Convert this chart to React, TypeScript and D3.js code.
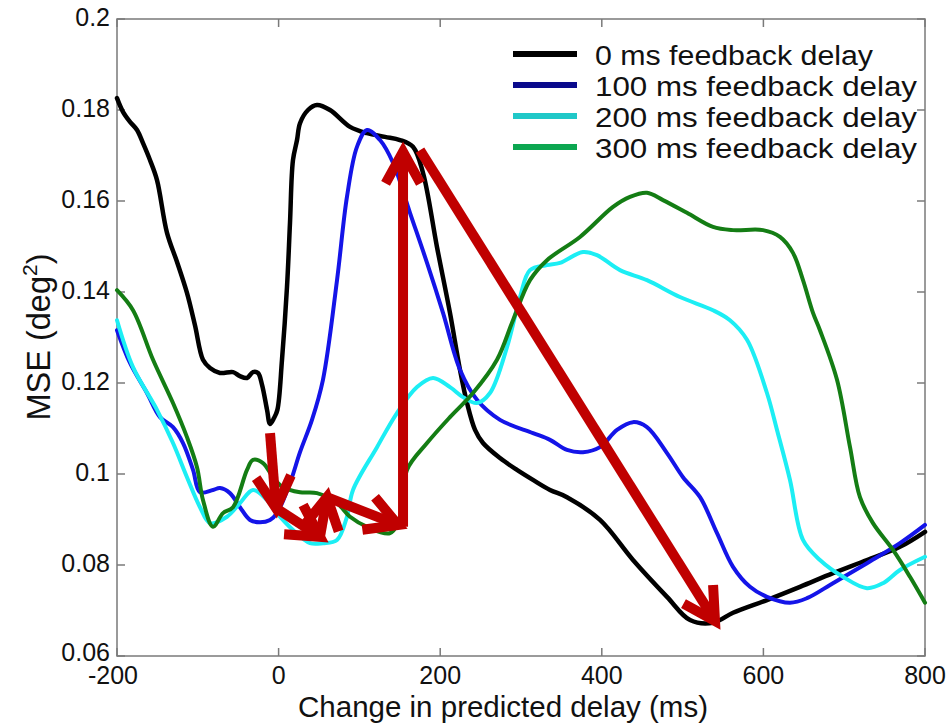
import React from "react";
import * as d3 from "d3";

// ---- data (x: change in predicted delay, ms; y: MSE, deg^2) ----
const delay0: [number, number][] = [
  [-200, 0.1826], [-192.6, 0.1796], [-183.9, 0.1774], [-175.2, 0.1756], [-167.8, 0.1727],
  [-159.2, 0.169], [-150.5, 0.1646], [-138.1, 0.153], [-125.7, 0.1466], [-113.4, 0.1398],
  [-103.5, 0.1327], [-93.6, 0.1251], [-84.9, 0.1233], [-72.5, 0.1222], [-56.4, 0.1224],
  [-47.8, 0.1215], [-39.1, 0.1211], [-31.7, 0.1224], [-25.5, 0.1222], [-20.5, 0.1196],
  [-14.3, 0.1141], [-10.6, 0.111], [-5.7, 0.1123], [-1.5, 0.1141], [4.2, 0.1251],
  [10.4, 0.1411], [14.1, 0.1552], [17.8, 0.169], [22.8, 0.1734], [26.5, 0.1771],
  [36.4, 0.18], [47.5, 0.1811], [63.6, 0.18], [88.4, 0.1763], [109.4, 0.1749],
  [131.7, 0.1741], [150.2, 0.1734], [166.3, 0.1719], [178.7, 0.1662], [196, 0.1499],
  [212.1, 0.1354], [224.5, 0.1229], [233.2, 0.1156], [243.1, 0.1097], [253, 0.1068],
  [274, 0.1035], [295, 0.1009], [314.8, 0.0987], [335.9, 0.0965], [356.9, 0.0949],
  [397.8, 0.0899], [438.6, 0.0811], [480.7, 0.073], [509.2, 0.0679], [537.6, 0.0673],
  [562.4, 0.0695], [604.4, 0.0723], [645.3, 0.0752], [686.1, 0.0782], [728.2, 0.0811],
  [769, 0.084], [800, 0.0873],
];

const delay100: [number, number][] = [
  [-200, 0.1316], [-183.9, 0.1244], [-162.9, 0.1178], [-146.8, 0.1125], [-130.7, 0.1103],
  [-118.3, 0.1068], [-105.9, 0.1009], [-97.3, 0.096], [-81.2, 0.0965], [-72.5, 0.0969],
  [-60.2, 0.0958], [-47.8, 0.0927], [-35.4, 0.0899], [-23, 0.0894], [-10.6, 0.0899],
  [-2, 0.0914], [14.1, 0.098], [26.5, 0.1048], [41.3, 0.1119], [54.9, 0.1207],
  [72.3, 0.1426], [84.6, 0.1609], [97, 0.1719], [109.4, 0.1756], [125.5, 0.1734],
  [141.6, 0.1684], [162.6, 0.1574], [183.7, 0.1464], [203.5, 0.1354], [224.5, 0.1229],
  [245.5, 0.1163], [274, 0.1119], [314.8, 0.109], [335.9, 0.1075], [356.9, 0.1053],
  [376.7, 0.1048], [397.8, 0.1059], [418.8, 0.1097], [438.6, 0.1114], [455.9, 0.1103],
  [480.7, 0.1046], [500.5, 0.0993], [521.6, 0.0949], [542.6, 0.087], [562.4, 0.0796],
  [583.4, 0.0752], [604.4, 0.073], [632.9, 0.0717], [653.9, 0.0727], [686.1, 0.076],
  [728.2, 0.0804], [769, 0.0848], [800, 0.0888],
];

const delay200: [number, number][] = [
  [-200, 0.1338], [-180.2, 0.1235], [-150.5, 0.1141], [-130.7, 0.1068], [-113.4, 0.0993],
  [-97.3, 0.0927], [-84.9, 0.0892], [-63.9, 0.0906], [-47.8, 0.0936], [-31.7, 0.0965],
  [-14.4, 0.0943], [-2, 0.0914], [17.8, 0.0877], [38.9, 0.0848], [54.9, 0.0848],
  [72.3, 0.0855], [84.6, 0.0906], [92.1, 0.0965], [121.8, 0.1059], [146.5, 0.1134],
  [171.3, 0.1191], [191.1, 0.1211], [212.1, 0.1191], [228.2, 0.1169], [245.5, 0.1156],
  [261.6, 0.1178], [282.7, 0.1279], [298.8, 0.1389], [311.1, 0.1448], [332.2, 0.1459],
  [348.2, 0.1464], [376.7, 0.1488], [394, 0.1481], [422.5, 0.1448], [455.9, 0.1426],
  [496.7, 0.1389], [537.6, 0.136], [558.6, 0.1338], [579.7, 0.1295], [604.4, 0.1178],
  [616.8, 0.1097], [632.9, 0.0987], [649, 0.0855], [670, 0.0811], [698.5, 0.0774],
  [728.2, 0.0749], [748, 0.076], [769, 0.0789], [800, 0.0818],
];

const delay300: [number, number][] = [
  [-200, 0.1404], [-180.2, 0.136], [-155.4, 0.1251], [-130.7, 0.1156], [-113.4, 0.1081],
  [-101, 0.1015], [-93.6, 0.0943], [-81.2, 0.0884], [-68.8, 0.0914], [-56.4, 0.0927],
  [-39.1, 0.1009], [-31.7, 0.1031], [-19.3, 0.1024], [-6.9, 0.0993], [5.4, 0.0971],
  [26.5, 0.096], [47.5, 0.0958], [72.3, 0.0936], [88.4, 0.0906], [109.4, 0.0884],
  [137.9, 0.087], [150.2, 0.0906], [158.9, 0.1009], [183.7, 0.1068], [212.1, 0.1125],
  [240.6, 0.1178], [270.3, 0.1251], [290.1, 0.1338], [311.1, 0.1426], [332.2, 0.147],
  [373, 0.1521], [413.9, 0.1587], [434.9, 0.1609], [455.9, 0.1618], [475.7, 0.1602],
  [505.4, 0.1574], [537.6, 0.1543], [562.4, 0.1536], [599.5, 0.1536], [620.5, 0.1521],
  [636.6, 0.1486], [649, 0.1426], [661.4, 0.1354], [670, 0.1316], [691.1, 0.1207],
  [707.2, 0.1059], [719.5, 0.0949], [735.6, 0.0892], [760.4, 0.0833], [781.4, 0.0774],
  [800, 0.0717],
];

const seriesNames = [
  "0 ms feedback delay",
  "100 ms feedback delay",
  "200 ms feedback delay",
  "300 ms feedback delay",
];
const seriesData = [delay0, delay100, delay200, delay300];
const lineColors = ["#000000", "#1414e8", "#1ceef4", "#147d14"];
const legendColors = ["#000000", "#0a0a8c", "#20c8c8", "#0ca650"];

// red annotation arrows: [x1, y1, x2, y2] in data units
const arrows: [number, number, number, number][] = [
  [-10.6, 0.109, -3.2, 0.0925],
  [-3.2, 0.0925, 51.2, 0.0862],
  [51.2, 0.0862, 59.9, 0.0949],
  [59.9, 0.0949, 147.8, 0.0888],
  [154, 0.0884, 154, 0.1708],
  [175, 0.1712, 540.1, 0.0677],
];

const xTicks = [-200, 0, 200, 400, 600, 800];
const yTicks = [0.06, 0.08, 0.1, 0.12, 0.14, 0.16, 0.18, 0.2];
const xLabel = "Change in predicted delay (ms)";

export default function App() {
  const W = 950, H = 723;
  const L = 117, R = 925, T = 19, B = 656;
  const x = d3.scaleLinear().domain([-200, 800]).range([L, R]);
  const y = d3.scaleLinear().domain([0.06, 0.2]).range([B, T]);
  const line = d3
    .line<[number, number]>()
    .x((d) => x(d[0]))
    .y((d) => y(d[1]))
    .curve(d3.curveCatmullRom.alpha(0.5));
  const font = "Liberation Sans, Arial, sans-serif";
  const axisColor = "#7a7a7a";
  const tickLen = 8;
  const red = "#c00000";

  const arrowHead = (a: [number, number, number, number]) => {
    const x1 = x(a[0]), y1 = y(a[1]), x2 = x(a[2]), y2 = y(a[3]);
    const ang = Math.atan2(y2 - y1, x2 - x1);
    const len = 36, spread = (29 * Math.PI) / 180;
    const w1 = [x2 - len * Math.cos(ang - spread), y2 - len * Math.sin(ang - spread)];
    const w2 = [x2 - len * Math.cos(ang + spread), y2 - len * Math.sin(ang + spread)];
    return `M${w1[0]},${w1[1]}L${x2},${y2}L${w2[0]},${w2[1]}`;
  };

  const legendWidths = [278, 322, 322, 322];

  return (
    <svg
      width={W}
      height={H}
      style={{ position: "absolute", left: 0, top: 0, background: "#fff" }}
      fontFamily={font}
    >
      <rect x={0} y={0} width={W} height={H} fill="#fff" />
      {/* axes box */}
      <rect x={L} y={T} width={R - L} height={B - T} fill="none" stroke={axisColor} strokeWidth={1.5} />
      {xTicks.map((t) => (
        <g key={"xt" + t}>
          <line x1={x(t)} x2={x(t)} y1={B} y2={B - tickLen} stroke={axisColor} strokeWidth={1.5} />
          <line x1={x(t)} x2={x(t)} y1={T} y2={T + tickLen} stroke={axisColor} strokeWidth={1.5} />
          <text x={x(t) - (t === -200 ? 4 : 0)} y={684} textAnchor="middle" fontSize={25} fill="#111">
            {String(t)}
          </text>
        </g>
      ))}
      {yTicks.map((t) => (
        <g key={"yt" + t}>
          <line x1={L} x2={L + tickLen} y1={y(t)} y2={y(t)} stroke={axisColor} strokeWidth={1.5} />
          <line x1={R} x2={R - tickLen} y1={y(t)} y2={y(t)} stroke={axisColor} strokeWidth={1.5} />
          <text x={110} y={y(t) - (t === 0.06 ? 4 : 2)} dy="0.35em" textAnchor="end" fontSize={25} fill="#111">
            {d3.format("~g")(t)}
          </text>
        </g>
      ))}
      <text x={503} y={717} textAnchor="middle" fontSize={29.5} fill="#111">
        {xLabel}
      </text>
      <text
        transform={`translate(50,337) rotate(-90)`}
        textAnchor="middle"
        fontSize={32.5}
        fill="#111"
      >
        MSE (deg<tspan dy="-13" fontSize={21}>2</tspan><tspan dy="13">)</tspan>
      </text>

      {/* series lines */}
      {seriesData.map((s, i) => (
        <path
          key={"s" + i}
          d={line(s) || ""}
          fill="none"
          stroke={lineColors[i]}
          strokeWidth={i === 0 ? 4.5 : 4}
          strokeLinejoin="round"
          strokeLinecap="round"
        />
      ))}

      {/* red arrows */}
      {arrows.map((a, i) => (
        <g key={"a" + i} stroke={red} strokeWidth={10} fill="none">
          <line x1={x(a[0])} y1={y(a[1])} x2={x(a[2])} y2={y(a[3])} />
          <path d={arrowHead(a)} strokeLinejoin="miter" />
        </g>
      ))}

      {/* legend */}
      {seriesNames.map((n, i) => {
        const ly = 54 + i * 31;
        return (
          <g key={"l" + i}>
            <line x1={513} x2={577} y1={ly} y2={ly} stroke={legendColors[i]} strokeWidth={6} />
            <text
              x={595}
              y={ly + 2}
              dy="0.35em"
              fontSize={27}
              textLength={legendWidths[i]}
              lengthAdjust="spacingAndGlyphs"
              fill="#111"
            >
              {n}
            </text>
          </g>
        );
      })}
    </svg>
  );
}
